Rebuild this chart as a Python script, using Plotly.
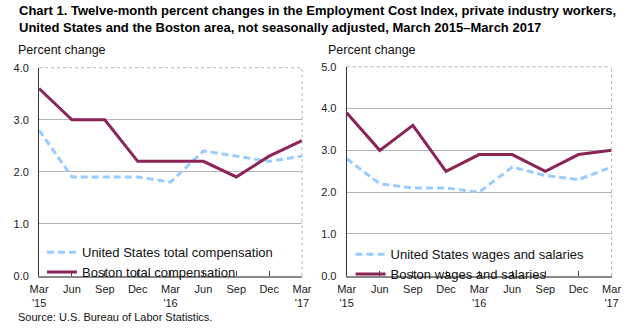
import plotly.graph_objects as go

# Quarter labels along the x axis
quarters = ["Mar<br>'15", "Jun", "Sep", "Dec", "Mar<br>'16", "Jun", "Sep", "Dec", "Mar<br>'17"]

# Twelve-month percent changes, total compensation
us_total = [2.8, 1.9, 1.9, 1.9, 1.8, 2.4, 2.3, 2.2, 2.3]
boston_total = [3.6, 3.0, 3.0, 2.2, 2.2, 2.2, 1.9, 2.3, 2.6]

# Twelve-month percent changes, wages and salaries
us_wages = [2.8, 2.2, 2.1, 2.1, 2.0, 2.6, 2.4, 2.3, 2.6]
boston_wages = [3.9, 3.0, 3.6, 2.5, 2.9, 2.9, 2.5, 2.9, 3.0]

US_COLOR = "#99CCFF"
BOS_COLOR = "#8C2457"
FONT = "Liberation Sans, Arial, sans-serif"

pos = list(range(len(quarters)))

fig = go.Figure()

fig.add_trace(go.Scatter(x=pos, y=us_total, mode="lines", name="United States total compensation",
                         line=dict(color=US_COLOR, width=3, dash="7px,4px"),
                         xaxis="x", yaxis="y", legend="legend"))
fig.add_trace(go.Scatter(x=pos, y=boston_total, mode="lines", name="Boston total compensation",
                         line=dict(color=BOS_COLOR, width=3),
                         xaxis="x", yaxis="y", legend="legend"))
fig.add_trace(go.Scatter(x=pos, y=us_wages, mode="lines", name="United States wages and salaries",
                         line=dict(color=US_COLOR, width=3, dash="7px,4px"),
                         xaxis="x2", yaxis="y2", legend="legend2"))
fig.add_trace(go.Scatter(x=pos, y=boston_wages, mode="lines", name="Boston wages and salaries",
                         line=dict(color=BOS_COLOR, width=3),
                         xaxis="x2", yaxis="y2", legend="legend2"))

W, H = 640, 330
ybot = 1 - 280 / H
ytop_l = 1 - 64 / H
ytop_r = 1 - 63 / H

xaxis_common = dict(
    range=[0, 8], tickmode="array", tickvals=pos, ticktext=quarters,
    showgrid=False, zeroline=False, showline=True, linecolor="#888888", linewidth=2,
    ticks="inside", ticklen=5, tickcolor="#444444", tickwidth=1, ticklabelstandoff=2,
    tickfont=dict(family=FONT, size=11, color="#222222"), fixedrange=True,
)
yaxis_common = dict(
    tickformat=".1f", showgrid=True, gridcolor="#B4B4B4", gridwidth=1,
    zeroline=False, showline=True, linecolor="#333333", linewidth=1,
    ticks="", ticklabelstandoff=7,
    tickfont=dict(family=FONT, size=11, color="#222222"), fixedrange=True,
)

legend_common = dict(
    xanchor="left", yanchor="top", bgcolor="rgba(0,0,0,0)",
    font=dict(family=FONT, size=13, color="#111111"),
    tracegroupgap=0, itemwidth=30,
)

fig.update_layout(
    width=W, height=H,
    margin=dict(l=0, r=0, t=0, b=0),
    paper_bgcolor="white", plot_bgcolor="white",
    font=dict(family=FONT, color="#111111"),
    xaxis=dict(domain=[31 / W, 302 / W], anchor="y", **xaxis_common),
    yaxis=dict(domain=[ybot, ytop_l], anchor="x", range=[0, 4], dtick=1, **yaxis_common),
    xaxis2=dict(domain=[348 / W, 621 / W], anchor="y2", **xaxis_common),
    yaxis2=dict(domain=[ybot, ytop_r], anchor="x2", range=[0, 5], dtick=1, **yaxis_common),
    legend=dict(x=34 / W, y=1 - 240 / H, **legend_common),
    legend2=dict(x=352 / W, y=1 - 242 / H, **legend_common),
    showlegend=True,
)

# Light box around each plot area (top and right edges)
for xr, yr in (("x domain", "y domain"), ("x2 domain", "y2 domain")):
    fig.add_shape(type="line", xref=xr, yref=yr, x0=0, x1=1, y0=1, y1=1,
                  line=dict(color="#B4B4B4", width=1, dash="dot"))
    fig.add_shape(type="line", xref=xr, yref=yr, x0=1, x1=1, y0=0, y1=1,
                  line=dict(color="#B4B4B4", width=1, dash="dot"))

title = ("<b>Chart 1. Twelve-month percent changes in the Employment Cost Index, private industry workers,<br>"
         "United States and the Boston area, not seasonally adjusted, March 2015\u2013March 2017</b>")
fig.add_annotation(text=title, xref="paper", yref="paper", x=8 / W, y=1 + 5 / H,
                   xanchor="left", yanchor="top", align="left", showarrow=False,
                   font=dict(family=FONT, size=13, color="#000000"))
fig.add_annotation(text="Percent change", xref="paper", yref="paper", x=7 / W, y=1 - 36 / H,
                   xanchor="left", yanchor="top", showarrow=False,
                   font=dict(family=FONT, size=12.5, color="#111111"))
fig.add_annotation(text="Percent change", xref="paper", yref="paper", x=327 / W, y=1 - 36 / H,
                   xanchor="left", yanchor="top", showarrow=False,
                   font=dict(family=FONT, size=12.5, color="#111111"))
fig.add_annotation(text="Source: U.S. Bureau of Labor Statistics.", xref="paper", yref="paper",
                   x=7 / W, y=1 - 314 / H, xanchor="left", yanchor="top", showarrow=False,
                   font=dict(family=FONT, size=11, color="#111111"))

fig.write_html("out.html")
